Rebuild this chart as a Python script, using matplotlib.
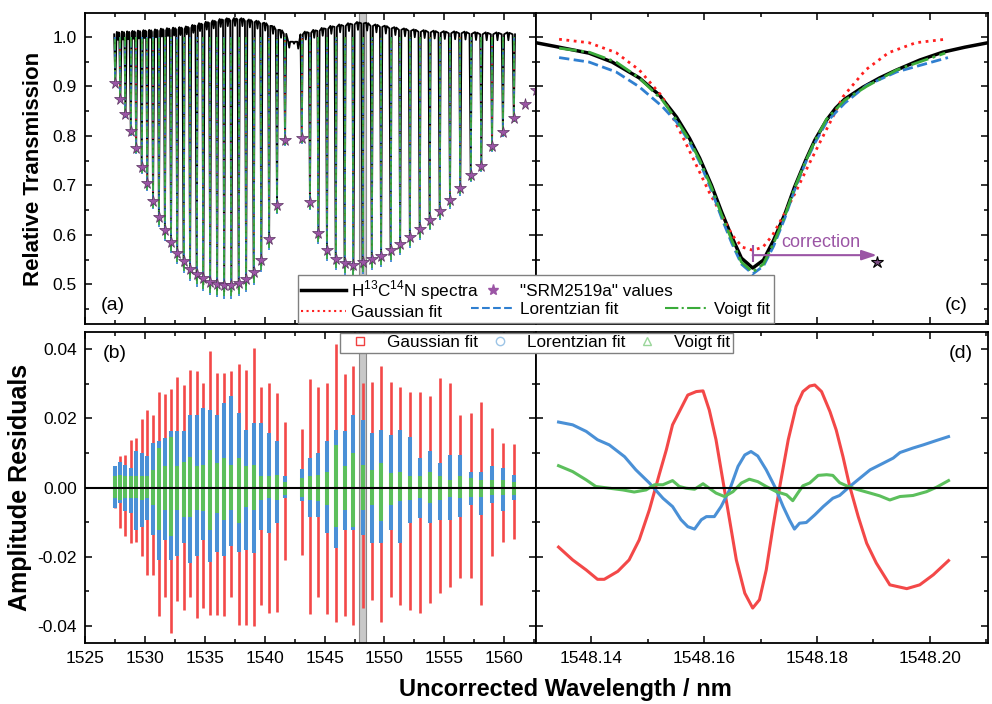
import numpy as np
import matplotlib.pyplot as plt
from matplotlib.lines import Line2D
from matplotlib.ticker import MultipleLocator, FormatStrFormatter

plt.rcParams['font.family'] = ['Liberation Sans', 'DejaVu Sans']
plt.rcParams['mathtext.fontset'] = 'custom'
plt.rcParams['mathtext.rm'] = 'Liberation Sans'
plt.rcParams['axes.unicode_minus'] = False

# --- line centres (uncorrected wavelength, nm) ---
line_wl = [1527.53, 1527.95, 1528.38, 1528.82, 1529.27, 1529.73, 1530.20, 1530.68, 1531.17,
           1531.67, 1532.18, 1532.70, 1533.23, 1533.77, 1534.32, 1534.88, 1535.45, 1536.03,
           1536.62, 1537.22, 1537.83, 1538.45, 1539.08, 1539.72, 1540.37, 1541.03, 1541.70,
           1543.09, 1543.78, 1544.49, 1545.20, 1545.93, 1546.67, 1547.41, 1548.17, 1548.94,
           1549.72, 1550.51, 1551.31, 1552.12, 1552.94, 1553.77, 1554.61, 1555.47, 1556.33,
           1557.20, 1558.09, 1558.98, 1559.89, 1560.80]
# local baseline of the measured spectrum near each line
env_top = [1.005, 1.007, 1.006, 1.008, 1.008, 1.009, 1.010, 1.010, 1.012, 1.013, 1.014, 1.015,
           1.016, 1.018, 1.022, 1.025, 1.028, 1.030, 1.034, 1.033, 1.035, 1.032, 1.030, 1.027,
           1.022, 1.014, 1.006,
           1.005, 1.008, 1.012, 1.016, 1.020, 1.022, 1.025, 1.027, 1.022, 1.020, 1.017, 1.014,
           1.012, 1.010, 1.009, 1.008, 1.007, 1.007, 1.006, 1.005, 1.005, 1.005, 1.005]
# SRM 2519a transmission values (stars)
srm_wl = line_wl + [1561.73, 1562.66]
srm_val = [0.906, 0.875, 0.845, 0.810, 0.775, 0.737, 0.704, 0.669, 0.636, 0.609, 0.586, 0.564,
           0.547, 0.532, 0.521, 0.512, 0.504, 0.500, 0.498, 0.498, 0.502, 0.510, 0.524, 0.549,
           0.591, 0.660, 0.791,
           0.795, 0.667, 0.603, 0.570, 0.552, 0.544, 0.540, 0.545, 0.552, 0.558, 0.569, 0.581,
           0.595, 0.611, 0.629, 0.649, 0.670, 0.695, 0.721, 0.740, 0.779, 0.808, 0.836, 0.865,
           0.892]
# weak lines in the band gap
weak_wl = [1542.05, 1542.45, 1542.80]
weak_val = [0.978, 0.986, 0.976]
# depth of data / fits relative to the SRM depth
data_scale = 1.026
gauss_scale = 0.947
lor_scale = 1.053
voigt_scale = 1.044

# --- residual ranges per line (panel b) ---
gauss_hi = [0.0059, 0.0091, 0.0094, 0.0138, 0.0142, 0.0197, 0.0224, 0.0210, 0.0277, 0.0270, 0.0284,
            0.0318, 0.0296, 0.0340, 0.0335, 0.0301, 0.0395, 0.0330, 0.0330, 0.0335, 0.0357, 0.0340,
            0.0402, 0.0291, 0.0301, 0.0274, 0.0188,
            0.0168, 0.0313, 0.0291, 0.0303, 0.0415, 0.0328, 0.0351, 0.0301, 0.0306, 0.0351, 0.0306,
            0.0291, 0.0277, 0.0277, 0.0263, 0.0316, 0.0303, 0.0210, 0.0215, 0.0248, 0.0171, 0.0128,
            0.0126]
gauss_lo = [-0.0060, -0.0117, -0.0141, -0.0161, -0.0156, -0.0199, -0.0252, -0.0252, -0.0372, -0.0315,
            -0.0420, -0.0329, -0.0353, -0.0315, -0.0377, -0.0348, -0.0367, -0.0367, -0.0372, -0.0315,
            -0.0396, -0.0396, -0.0401, -0.0339, -0.0363, -0.0358, -0.0209,
            -0.0194, -0.0365, -0.0315, -0.0365, -0.0387, -0.0372, -0.0396, -0.0348, -0.0324, -0.0387,
            -0.0315, -0.0339, -0.0353, -0.0363, -0.0334, -0.0305, -0.0286, -0.0262, -0.0262, -0.0339,
            -0.0199, -0.0156, -0.0149]
lor_hi = [0.0061, 0.0075, 0.0065, 0.0056, 0.0104, 0.0099, 0.0091, 0.0128, 0.0133, 0.0142, 0.0162,
          0.0162, 0.0162, 0.0210, 0.0210, 0.0229, 0.0224, 0.0210, 0.0245, 0.0263, 0.0215, 0.0166,
          0.0186, 0.0186, 0.0157, 0.0133, 0.0032,
          0.0053, 0.0085, 0.0099, 0.0133, 0.0166, 0.0162, 0.0210, 0.0195, 0.0157, 0.0166, 0.0152,
          0.0166, 0.0145, 0.0085, 0.0104, 0.0070, 0.0094, 0.0094, 0.0046, 0.0046, 0.0063, 0.0056,
          0.0037]
lor_lo = [-0.0060, -0.0045, -0.0069, -0.0074, -0.0122, -0.0113, -0.0093, -0.0137, -0.0209, -0.0151,
          -0.0209, -0.0199, -0.0161, -0.0218, -0.0199, -0.0151, -0.0214, -0.0185, -0.0199, -0.0170,
          -0.0185, -0.0180, -0.0190, -0.0122, -0.0132, -0.0103, -0.0031,
          -0.0040, -0.0084, -0.0084, -0.0132, -0.0175, -0.0122, -0.0122, -0.0137, -0.0161, -0.0161,
          -0.0122, -0.0161, -0.0103, -0.0089, -0.0103, -0.0093, -0.0093, -0.0084, -0.0050, -0.0079,
          -0.0045, -0.0069, -0.0036]
voigt_hi = [0.0032, 0.0037, 0.0032, 0.0032, 0.0032, 0.0032, 0.0032, 0.0051, 0.0114, 0.0061, 0.0147,
            0.0061, 0.0075, 0.0089, 0.0061, 0.0065, 0.0109, 0.0070, 0.0085, 0.0065, 0.0085, 0.0061,
            0.0065, 0.0032, 0.0032, 0.0037, 0.0017,
            0.0027, 0.0032, 0.0037, 0.0046, 0.0123, 0.0061, 0.0099, 0.0065, 0.0051, 0.0070, 0.0041,
            0.0046, 0.0032, 0.0032, 0.0046, 0.0032, 0.0022, 0.0032, 0.0027, 0.0022, 0.0022, 0.0022,
            0.0017]
voigt_lo = [-0.0031, -0.0036, -0.0031, -0.0031, -0.0031, -0.0036, -0.0031, -0.0050, -0.0122, -0.0064,
            -0.0141, -0.0064, -0.0084, -0.0084, -0.0064, -0.0069, -0.0122, -0.0074, -0.0093, -0.0064,
            -0.0103, -0.0055, -0.0064, -0.0036, -0.0031, -0.0036, -0.0021,
            -0.0026, -0.0036, -0.0040, -0.0050, -0.0113, -0.0064, -0.0113, -0.0064, -0.0050, -0.0098,
            -0.0050, -0.0040, -0.0036, -0.0031, -0.0045, -0.0036, -0.0026, -0.0031, -0.0026, -0.0026,
            -0.0021, -0.0021, -0.0021]

# --- zoomed line (panel c) ---
c_data_wl = [1548.1302, 1548.1343, 1548.1396, 1548.1437, 1548.1485, 1548.1521, 1548.1551, 1548.1574,
             1548.1592, 1548.1613, 1548.1631, 1548.1649, 1548.1666, 1548.1686, 1548.1705, 1548.1723,
             1548.1743, 1548.1760, 1548.1780, 1548.1796, 1548.1817, 1548.1833, 1548.1849, 1548.1881,
             1548.1911, 1548.1941, 1548.1982, 1548.2023, 1548.2062, 1548.2103]
c_data_val = [0.988, 0.979, 0.967, 0.949, 0.917, 0.882, 0.838, 0.795, 0.755, 0.700, 0.646, 0.596,
              0.553, 0.533, 0.549, 0.589, 0.642, 0.696, 0.751, 0.791, 0.832, 0.856, 0.874, 0.898,
              0.917, 0.933, 0.953, 0.969, 0.979, 0.988]
c_gauss_wl = [1548.1343, 1548.1396, 1548.1444, 1548.1485, 1548.1526, 1548.1544, 1548.1565, 1548.1586,
              1548.1609, 1548.1631, 1548.1650, 1548.1668, 1548.1686, 1548.1704, 1548.1721, 1548.1741,
              1548.1762, 1548.1785, 1548.1807, 1548.1828, 1548.1846, 1548.1886, 1548.1927, 1548.1975,
              1548.2027]
c_gauss_val = [0.995, 0.988, 0.968, 0.933, 0.879, 0.838, 0.791, 0.741, 0.686, 0.640, 0.599, 0.575,
               0.569, 0.575, 0.599, 0.640, 0.686, 0.741, 0.791, 0.838, 0.879, 0.933, 0.968, 0.988,
               0.995]
c_lor_wl = [1548.1343, 1548.1396, 1548.1444, 1548.1485, 1548.1526, 1548.1551, 1548.1574, 1548.1592,
            1548.1613, 1548.1631, 1548.1649, 1548.1666, 1548.1686, 1548.1705, 1548.1723, 1548.1743,
            1548.1760, 1548.1780, 1548.1796, 1548.1817, 1548.1849, 1548.1888, 1548.1941, 1548.1991,
            1548.2032]
c_lor_val = [0.958, 0.949, 0.929, 0.899, 0.859, 0.828, 0.787, 0.747, 0.690, 0.634, 0.583, 0.541,
             0.521, 0.537, 0.577, 0.634, 0.690, 0.747, 0.785, 0.828, 0.866, 0.902, 0.929, 0.945,
             0.958]
c_voigt_wl = [1548.1343, 1548.1396, 1548.1444, 1548.1485, 1548.1526, 1548.1551, 1548.1574, 1548.1592,
              1548.1613, 1548.1631, 1548.1649, 1548.1666, 1548.1686, 1548.1705, 1548.1723, 1548.1743,
              1548.1760, 1548.1780, 1548.1796, 1548.1817, 1548.1849, 1548.1888, 1548.1941, 1548.1991,
              1548.2027]
c_voigt_val = [0.977, 0.969, 0.949, 0.917, 0.872, 0.832, 0.791, 0.751, 0.696, 0.640, 0.589, 0.545,
               0.525, 0.541, 0.583, 0.638, 0.694, 0.749, 0.789, 0.834, 0.872, 0.900, 0.933, 0.953,
               0.967]
c_measured_centre = 1548.1686
c_srm_wl = 1548.1906
c_srm_val = 0.545

# --- residuals of the zoomed line (panel d) ---
d_gauss_wl = [1548.1342, 1548.1367, 1548.1391, 1548.1411, 1548.1423, 1548.1447, 1548.1467, 1548.1485,
              1548.1503, 1548.1521, 1548.1533, 1548.1544, 1548.1556, 1548.1571, 1548.1586, 1548.1598,
              1548.1609, 1548.1621, 1548.1633, 1548.1645, 1548.1657, 1548.1672, 1548.1686, 1548.1698,
              1548.1710, 1548.1722, 1548.1734, 1548.1749, 1548.1763, 1548.1775, 1548.1787, 1548.1796,
              1548.1808, 1548.1823, 1548.1834, 1548.1846, 1548.1858, 1548.1873, 1548.1888, 1548.1905,
              1548.1929, 1548.1959, 1548.1982, 1548.2006, 1548.2033]
d_gauss_res = [-0.0172, -0.0209, -0.0238, -0.0265, -0.0265, -0.0242, -0.0209, -0.0151, -0.0064, 0.0041,
               0.0109, 0.0181, 0.0219, 0.0267, 0.0277, 0.0279, 0.0224, 0.0138, 0.0022, -0.0093,
               -0.0209, -0.0305, -0.0348, -0.0324, -0.0238, -0.0113, 0.0003, 0.0138, 0.0234, 0.0277,
               0.0293, 0.0296, 0.0277, 0.0219, 0.0166, 0.0089, 0.0003, -0.0084, -0.0161, -0.0218,
               -0.0281, -0.0292, -0.0281, -0.0252, -0.0211]
d_lor_wl = [1548.1342, 1548.1367, 1548.1391, 1548.1411, 1548.1432, 1548.1459, 1548.1479, 1548.1503,
            1548.1527, 1548.1544, 1548.1559, 1548.1571, 1548.1583, 1548.1595, 1548.1604, 1548.1618,
            1548.1630, 1548.1645, 1548.1660, 1548.1672, 1548.1683, 1548.1695, 1548.1710, 1548.1725,
            1548.1740, 1548.1751, 1548.1760, 1548.1769, 1548.1781, 1548.1796, 1548.1811, 1548.1828,
            1548.1840, 1548.1858, 1548.1876, 1548.1894, 1548.1917, 1548.1935, 1548.1947, 1548.1970,
            1548.1988, 1548.2012, 1548.2033]
d_lor_res = [0.0189, 0.0181, 0.0162, 0.0138, 0.0123, 0.0089, 0.0051, 0.0013, -0.0031, -0.0055,
             -0.0093, -0.0113, -0.0120, -0.0093, -0.0084, -0.0084, -0.0055, -0.0007, 0.0061, 0.0094,
             0.0104, 0.0091, 0.0051, 0.0003, -0.0055, -0.0093, -0.0120, -0.0103, -0.0101, -0.0079,
             -0.0055, -0.0031, -0.0023, 0.0003, 0.0027, 0.0051, 0.0070, 0.0085, 0.0101, 0.0114,
             0.0123, 0.0136, 0.0147]
d_voigt_wl = [1548.1342, 1548.1367, 1548.1391, 1548.1408, 1548.1432, 1548.1456, 1548.1476, 1548.1497,
              1548.1512, 1548.1527, 1548.1544, 1548.1556, 1548.1568, 1548.1583, 1548.1598, 1548.1609,
              1548.1621, 1548.1636, 1548.1651, 1548.1666, 1548.1680, 1548.1695, 1548.1710, 1548.1728,
              1548.1746, 1548.1757, 1548.1766, 1548.1775, 1548.1787, 1548.1802, 1548.1817, 1548.1828,
              1548.1840, 1548.1855, 1548.1870, 1548.1894, 1548.1911, 1548.1929, 1548.1947, 1548.1970,
              1548.1994, 1548.2012, 1548.2033]
d_voigt_res = [0.0063, 0.0046, 0.0022, 0.0003, -0.0002, -0.0007, -0.0013, -0.0007, 0.0008, 0.0008,
               0.0020, 0.0003, -0.0002, -0.0005, 0.0011, -0.0002, -0.0016, -0.0026, -0.0012, 0.0013,
               0.0024, 0.0017, 0.0003, -0.0012, -0.0021, -0.0038, -0.0016, 0.0005, 0.0013, 0.0035,
               0.0037, 0.0035, 0.0014, 0.0003, -0.0005, -0.0016, -0.0024, -0.0036, -0.0026, -0.0023,
               -0.0012, 0.0001, 0.0020]

zoom_band = (1547.84, 1548.50)

# --- colours ---
c_red = '#ff2020'
c_blue = '#2f7fd0'
c_green = '#3aab3a'
c_purple = '#9b55a5'
b_red = '#f34848'
b_blue = '#4a90d6'
b_green = '#5cbf5c'

# --- build measured spectrum path for panel a ---
spec_x, spec_y = [], []
n_r = 27
for i, (w, top, s) in enumerate(zip(line_wl, env_top, srm_val)):
    dmin = 1 - (1 - s) * data_scale
    spec_x += [w - 0.1, w, w + 0.1]
    spec_y += [top, dmin, top]
    if i == n_r - 1:
        for ww, wv in zip(weak_wl, weak_val):
            spec_x += [ww - 0.08, ww, ww + 0.08]
            spec_y += [0.99, wv, 0.99]
    elif i < len(line_wl) - 1:
        mid = (w + line_wl[i + 1]) / 2
        nxt = env_top[i + 1]
        spec_x += [mid - 0.08, mid, mid + 0.08]
        spec_y += [(top + nxt) / 2 + 0.004, (top + nxt) / 2 - 0.012, (top + nxt) / 2 + 0.003]

fig = plt.figure(figsize=(9.92, 7.04), dpi=100)
ax_a = fig.add_axes([0.0857, 0.5398, 0.4546, 0.4417])
ax_b = fig.add_axes([0.0857, 0.0866, 0.4546, 0.4418])
ax_c = fig.add_axes([0.5403, 0.5398, 0.4557, 0.4417], sharey=ax_a)
ax_d = fig.add_axes([0.5403, 0.0866, 0.4557, 0.4418], sharey=ax_b)

# panel a
ax_a.axvspan(*zoom_band, facecolor='#c8c8c8', edgecolor='#8a8a8a', lw=0.8, zorder=0.5)
ax_a.plot(spec_x, spec_y, color='black', lw=1.3, zorder=2)
nl = len(line_wl)
ax_a.vlines(line_wl, [1 - (1 - s) * gauss_scale for s in srm_val[:nl]], 1.0,
            colors=c_red, linestyles=':', lw=1.2, zorder=3)
ax_a.vlines(line_wl, [1 - (1 - s) * lor_scale for s in srm_val[:nl]], 1.0,
            colors=c_blue, linestyles='--', lw=1.2, zorder=3)
ax_a.vlines(line_wl, [1 - (1 - s) * voigt_scale for s in srm_val[:nl]], 1.0,
            colors=c_green, linestyles='-.', lw=1.2, zorder=4)
ax_a.plot(srm_wl, srm_val, ls='none', marker='*', ms=8.5, mfc=c_purple, mec='#5a3560', mew=0.5, zorder=5)
ax_a.set_xlim(1525, 1562.65)
ax_a.set_ylim(0.420, 1.048)
ax_a.set_ylabel('Relative Transmission', fontsize=16, fontweight='bold', labelpad=6)
ax_a.text(0.035, 0.045, '(a)', transform=ax_a.transAxes, fontsize=14)

# panel b
ax_b.axvspan(*zoom_band, facecolor='#c8c8c8', edgecolor='#8a8a8a', lw=0.8, zorder=0.5)
ax_b.vlines(line_wl, gauss_lo, gauss_hi, colors=b_red, lw=1.9, zorder=2)
ax_b.vlines(line_wl, lor_lo, lor_hi, colors=b_blue, lw=2.9, zorder=3)
ax_b.vlines(line_wl, voigt_lo, voigt_hi, colors=b_green, lw=2.9, zorder=4)
ax_b.axhline(0, color='black', lw=1.5, zorder=5)
ax_b.set_xlim(1525, 1562.65)
ax_b.set_ylim(-0.0449, 0.0449)
ax_b.set_ylabel('Amplitude Residuals', fontsize=18, fontweight='bold', labelpad=4)
ax_b.text(0.04, 0.915, '(b)', transform=ax_b.transAxes, fontsize=14)

# panel c
ax_c.plot(c_data_wl, c_data_val, color='black', lw=2.5, zorder=2)
ax_c.plot(c_gauss_wl, c_gauss_val, color=c_red, ls=':', lw=2, zorder=3)
ax_c.plot(c_lor_wl, c_lor_val, color=c_blue, ls='--', lw=2, zorder=3)
ax_c.plot(c_voigt_wl, c_voigt_val, color=c_green, ls='-.', lw=2, zorder=4)
ax_c.vlines(c_measured_centre, 0.545, 0.579, color=c_purple, lw=1.5, zorder=5)
ax_c.annotate('', xy=(c_srm_wl, 0.559), xytext=(c_measured_centre, 0.559),
              arrowprops=dict(arrowstyle='-|>,head_length=0.9,head_width=0.3', color=c_purple,
                              lw=1.5, shrinkA=0, shrinkB=0), zorder=5)
ax_c.text(1548.1737, 0.576, 'correction', color=c_purple, fontsize=13, va='baseline')
ax_c.plot([c_srm_wl], [c_srm_val], ls='none', marker='*', ms=9, mfc='#7a4d82', mec='black',
          mew=0.8, zorder=6)
ax_c.set_xlim(1548.1302, 1548.2103)
ax_c.text(0.93, 0.045, '(c)', transform=ax_c.transAxes, fontsize=14, ha='center')

# panel d
ax_d.plot(d_gauss_wl, d_gauss_res, color=b_red, lw=2.2, zorder=2)
ax_d.plot(d_lor_wl, d_lor_res, color=b_blue, lw=2.2, zorder=3)
ax_d.plot(d_voigt_wl, d_voigt_res, color=b_green, lw=2.2, zorder=4)
ax_d.axhline(0, color='black', lw=1.5, zorder=5)
ax_d.set_xlim(1548.1302, 1548.2103)
ax_d.text(0.94, 0.915, '(d)', transform=ax_d.transAxes, fontsize=14, ha='center')

# ticks and spines
for ax in (ax_a, ax_b, ax_c, ax_d):
    ax.tick_params(which='both', direction='in', top=True, right=True, width=1.1,
                   labelsize=12.5, pad=6)
    ax.tick_params(which='major', length=5)
    ax.tick_params(which='minor', length=3)
    for sp in ax.spines.values():
        sp.set_linewidth(1.3)
for ax in (ax_a, ax_b):
    ax.xaxis.set_major_locator(MultipleLocator(5))
    ax.xaxis.set_minor_locator(MultipleLocator(2.5))
for ax in (ax_c, ax_d):
    ax.xaxis.set_major_locator(MultipleLocator(0.02))
    ax.xaxis.set_minor_locator(MultipleLocator(0.01))
    ax.xaxis.set_major_formatter(FormatStrFormatter('%.2f'))
ax_a.yaxis.set_major_locator(MultipleLocator(0.1))
ax_a.yaxis.set_minor_locator(MultipleLocator(0.05))
ax_a.yaxis.set_major_formatter(FormatStrFormatter('%.1f'))
ax_b.yaxis.set_major_locator(MultipleLocator(0.02))
ax_b.yaxis.set_minor_locator(MultipleLocator(0.01))
ax_b.yaxis.set_major_formatter(FormatStrFormatter('%.2f'))
ax_a.tick_params(labelbottom=False)
ax_c.tick_params(labelbottom=False, labelleft=False)
ax_d.tick_params(labelleft=False)

fig.text(0.57, 0.021, 'Uncorrected Wavelength / nm', fontsize=17, fontweight='bold',
         ha='center', va='center')

# legend for top panels
h_spec = Line2D([], [], color='black', lw=2.5)
h_srm = Line2D([], [], ls='none', marker='*', ms=8, mfc=c_purple, mec=c_purple)
h_g = Line2D([], [], color=c_red, ls=':', lw=1.5)
h_l = Line2D([], [], color=c_blue, ls='--', lw=1.5)
h_v = Line2D([], [], color=c_green, ls='-.', lw=1.5)
h_blank = Line2D([], [], ls='none')
leg1 = fig.legend([h_spec, h_g, h_srm, h_l, h_blank, h_v],
                  [r'H$^{\mathregular{13}}$C$^{\mathregular{14}}$N spectra', 'Gaussian fit',
                   '"SRM2519a" values', 'Lorentzian fit', '', 'Voigt fit'],
                  ncol=3, loc='lower left', bbox_to_anchor=(0.3004, 0.5412, 0.4798, 0.069),
                  mode='expand', fontsize=12.3, frameon=True, fancybox=False, edgecolor='#808080',
                  framealpha=1, borderpad=0.2, labelspacing=0.15, handlelength=2.6,
                  handletextpad=0.3, borderaxespad=0)
leg1.get_frame().set_linewidth(1.0)

# legend for residual panels
m_g = Line2D([], [], ls='none', marker='s', ms=6, mfc='none', mec='#f04040', mew=1)
m_l = Line2D([], [], ls='none', marker='o', ms=6, mfc='none', mec='#9cc4e6', mew=1)
m_v = Line2D([], [], ls='none', marker='^', ms=6, mfc='none', mec='#9ad69a', mew=1)
leg2 = fig.legend([m_g, m_l, m_v], ['Gaussian fit', 'Lorentzian fit', 'Voigt fit'],
                  ncol=3, loc='upper left', bbox_to_anchor=(0.3427, 0.4929, 0.3962, 0.0345),
                  mode='expand', fontsize=12.3, frameon=True, fancybox=False, edgecolor='#808080',
                  framealpha=1, borderpad=0.15, handlelength=2.0, handletextpad=0.6,
                  borderaxespad=0)
leg2.get_frame().set_linewidth(1.0)

fig.savefig('out.png', dpi=100)
